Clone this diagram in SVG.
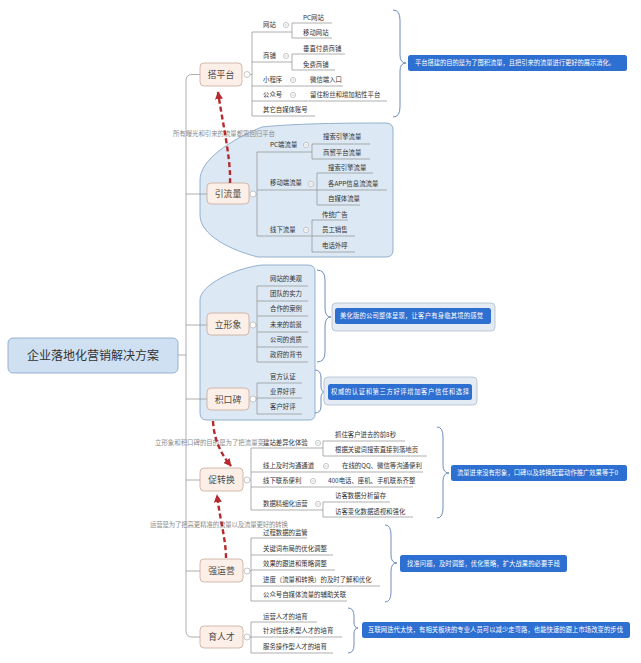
<svg xmlns="http://www.w3.org/2000/svg" width="641" height="663" viewBox="0 0 641 663">
<style>
text{font-family:"Noto Sans CJK SC","Noto Sans",sans-serif}
.nr{fill:#fcefe7;stroke:#c9a999;stroke-width:0.8}
.nt{font-size:8.8px;fill:#4d4a48;text-anchor:middle}
.rt{font-size:12px;fill:#333;text-anchor:middle}
.st{font-size:6.4px;fill:#333}
.ln{stroke:#9b9b9b;stroke-width:0.8;fill:none}
.ul{stroke:#8e8e8e;stroke-width:0.7;fill:none}
.tg{fill:#fff;stroke:#b0b0b0;stroke-width:0.7}
.tm{stroke:#b0b0b0;stroke-width:0.6}
.br{stroke:#5d80b3;stroke-width:0.9;fill:none}
.sb{fill:#2e6fd2}
.so{fill:#e4ebf3;stroke:#aebdcf;stroke-width:0.8}
.sm{font-size:6.3px;fill:#fff}
.rel{stroke:#b52a2e;stroke-width:2.4;stroke-dasharray:5 3;fill:none}
.lb{font-size:6.4px;fill:#8a8a8a}
.bd{fill:#dce8f4;stroke:#8aa8c8;stroke-width:0.9}
</style>
<defs>
<marker id="ah" viewBox="0 0 10 10" refX="9" refY="5" markerWidth="8" markerHeight="8" markerUnits="userSpaceOnUse" orient="auto">
<path d="M0,0 L10,5 L0,10 Z" fill="#b52a2e"/>
</marker>
</defs>
<rect width="641" height="663" fill="#fff"/>

<g id="boundaries">
<path class="bd" d="M262,127 C300,123 360,123 386,123 Q393,123 393,130 L393,250 Q393,257 386,257 L258,257 C230,250 200,235 200,215 L200,180 C200,160 230,140 262,127 Z"/>
<path class="bd" d="M262,265 L308,265 Q315,265 315,272 L315,414 Q315,420 309,420 L207,420 Q200,420 200,413 L200,300 C200,285 235,268 262,265 Z"/>
</g>

<g id="connectors">
<path class="ln" d="M200,74.5 H192 Q186,74.5 186,80.5 V631 Q186,637 192,637 H200"/>
<path class="ln" d="M178,355 H186 M186,194 H207 M186,325 H207 M186,399 H207 M186,480 H200 M186,571 H200"/>
<path class="ln" d="M250,74.5 H252 M252,32 V116"/>
<path class="ln" d="M256,194 H257 M257,152 V236"/>
<path class="ln" d="M256,325 H257 M257,286 V362"/>
<path class="ln" d="M256,399 H257 M257,383 V414"/>
<path class="ln" d="M250,480 H251 M251,448 V510"/>
<path class="ln" d="M250,571 H251 M251,538 V601"/>
<path class="ln" d="M250,637 H251 M251,622 V653"/>
</g>

<g id="root">
<rect x="8" y="338" width="170" height="35" rx="5" fill="#cfe0f3" stroke="#8fa9c9" stroke-width="0.9"/>
<text class="rt" x="93" y="360">企业落地化营销解决方案</text>
</g>

<g id="n-dapingtai">
<rect class="nr" x="200" y="63" width="42" height="23" rx="4"/>
<text class="nt" x="221" y="78">搭平台</text>
<circle class="tg" cx="247" cy="74.5" r="3"/>
<path class="ul" d="M252,32 H292 M292,23 V38 M292,23 H332 M292,38 H332 M252,62 H292 M292,54 V70 M292,54 H345 M292,70 H335 M252,86 H343 M252,101 H387 M252,116 H315"/>
<circle class="tg" cx="286" cy="25" r="2.6"/><path class="tm" d="M284.6,25 H287.4"/>
<circle class="tg" cx="286" cy="56" r="2.6"/><path class="tm" d="M284.6,56 H287.4"/>
<circle class="tg" cx="293" cy="80" r="2.6"/><path class="tm" d="M291.6,80 H294.4"/>
<circle class="tg" cx="293" cy="95" r="2.6"/><path class="tm" d="M291.6,95 H294.4"/>
<text class="st" x="263" y="27.3">网站</text>
<text class="st" x="303" y="20.3">PC网站</text>
<text class="st" x="303" y="35.3">移动网站</text>
<text class="st" x="263" y="58.3">商铺</text>
<text class="st" x="303" y="51.3">垂直付费商铺</text>
<text class="st" x="303" y="67.3">免费商铺</text>
<text class="st" x="263" y="82.3">小程序</text>
<text class="st" x="310" y="82.3">微信端入口</text>
<text class="st" x="263" y="97.3">公众号</text>
<text class="st" x="310" y="97.3">留住粉丝和增加粘性平台</text>
<text class="st" x="263" y="112.3">其它自媒体账号</text>
</g>

<g id="n-yinliuliang">
<rect class="nr" x="207" y="183" width="42" height="21" rx="4"/>
<text class="nt" x="228" y="197">引流量</text>
<circle class="tg" cx="253" cy="194" r="3"/>
<path class="ul" d="M257,152 H312 M312,144 V159 M312,144 H370 M312,159 H370 M257,190 H317 M317,173 V205 M317,173 H373 M317,190 H387 M317,205 H360 M257,236 H312 M312,220 V252 M312,220 H348 M312,236 H355 M312,252 H355"/>
<circle class="tg" cx="306" cy="145" r="2.6"/><path class="tm" d="M304.6,145 H307.4"/>
<circle class="tg" cx="311" cy="184" r="2.6"/><path class="tm" d="M309.6,184 H312.4"/>
<circle class="tg" cx="306" cy="230" r="2.6"/><path class="tm" d="M304.6,230 H307.4"/>
<text class="st" x="270" y="147.3">PC端流量</text>
<text class="st" x="323" y="139.3">搜索引擎流量</text>
<text class="st" x="323" y="155.3">商贸平台流量</text>
<text class="st" x="270" y="185.3">移动端流量</text>
<text class="st" x="328" y="170.3">搜索引擎流量</text>
<text class="st" x="328" y="186.3">各APP信息流流量</text>
<text class="st" x="328" y="201.3">自媒体流量</text>
<text class="st" x="270" y="232.3">线下流量</text>
<text class="st" x="322" y="217.3">传统广告</text>
<text class="st" x="322" y="232.3">员工销售</text>
<text class="st" x="322" y="248.3">电话外呼</text>
</g>

<g id="n-lixingxiang">
<rect class="nr" x="207" y="313" width="42" height="22" rx="4"/>
<text class="nt" x="228" y="327.5">立形象</text>
<circle class="tg" cx="253" cy="325" r="3"/>
<path class="ul" d="M257,286 H308 M257,301 H308 M257,316 H308 M257,332 H308 M257,347 H308 M257,362 H308"/>
<text class="st" x="270" y="281.3">网站的美观</text>
<text class="st" x="270" y="296.3">团队的实力</text>
<text class="st" x="270" y="311.3">合作的案例</text>
<text class="st" x="270" y="327.3">未来的前景</text>
<text class="st" x="270" y="342.3">公司的资质</text>
<text class="st" x="270" y="357.3">政府的背书</text>
</g>

<g id="n-jikoubei">
<rect class="nr" x="207" y="388" width="42" height="22" rx="4"/>
<text class="nt" x="228" y="402.5">积口碑</text>
<circle class="tg" cx="253" cy="399" r="3"/>
<path class="ul" d="M257,383 H302 M257,398 H302 M257,414 H302"/>
<text class="st" x="270" y="379.3">官方认证</text>
<text class="st" x="270" y="394.3">业界好评</text>
<text class="st" x="270" y="409.3">客户好评</text>
</g>

<g id="labels-back">
<text class="lb" x="155" y="444.5" textLength="109" lengthAdjust="spacing">立形象和积口碑的目的是为了把流量变</text>
</g>

<g id="n-cuzhuanhuan">
<rect class="nr" x="200" y="468" width="43" height="23" rx="4"/>
<text class="nt" x="221.5" y="483">促转换</text>
<circle class="tg" cx="247" cy="480" r="3"/>
<path class="ul" d="M251,448 H323 M323,441 V456 M323,441 H405 M323,456 H427 M251,472 H423 M251,487 H413 M251,510 H323 M323,502 V517 M323,502 H390 M323,517 H413"/>
<circle class="tg" cx="318" cy="443" r="2.6"/><path class="tm" d="M316.6,443 H319.4"/>
<circle class="tg" cx="326" cy="466" r="2.6"/><path class="tm" d="M324.6,466 H327.4"/>
<circle class="tg" cx="313" cy="481" r="2.6"/><path class="tm" d="M311.6,481 H314.4"/>
<circle class="tg" cx="318" cy="504" r="2.6"/><path class="tm" d="M316.6,504 H319.4"/>
<text class="st" x="263" y="445.3">建站差异化体验</text>
<text class="st" x="335" y="437.3">抓住客户进去的前8秒</text>
<text class="st" x="335" y="452.3">根据关键词搜索直接到落地页</text>
<text class="st" x="263" y="468.3">线上及时沟通通道</text>
<text class="st" x="342" y="468.3">在线的QQ、微信等沟通便利</text>
<text class="st" x="263" y="483.3">线下联系便利</text>
<text class="st" x="328" y="483.3">400电话、座机、手机联系齐整</text>
<text class="st" x="263" y="506.3">数据精细化运营</text>
<text class="st" x="335" y="498.3">访客数据分析留存</text>
<text class="st" x="335" y="513.8">访客变化数据透视和强化</text>
</g>

<g id="n-qiangyunying">
<rect class="nr" x="200" y="559" width="43" height="23" rx="4"/>
<text class="nt" x="221.5" y="574">强运营</text>
<circle class="tg" cx="247" cy="571" r="3"/>
<path class="ul" d="M251,538 H307 M251,555 H333 M251,570 H335 M251,586 H380 M251,601 H347"/>
<text class="st" x="263" y="535.3">过程数据的监管</text>
<text class="st" x="263" y="551.3">关键词布局的优化调整</text>
<text class="st" x="263" y="566.3">效果的跟进和策略调整</text>
<text class="st" x="263" y="582.3">进度（流量和转换）的及时了解和优化</text>
<text class="st" x="263" y="596.8">公众号自媒体流量的辅助关联</text>
</g>

<g id="n-yurencai">
<rect class="nr" x="200" y="626" width="43" height="22" rx="4"/>
<text class="nt" x="221.5" y="640">育人才</text>
<circle class="tg" cx="247" cy="637" r="3"/>
<path class="ul" d="M251,622 H317 M251,637 H342 M251,653 H333"/>
<text class="st" x="263" y="619.3">运营人才的培育</text>
<text class="st" x="263" y="633.3">针对性技术型人才的培育</text>
<text class="st" x="263" y="649.3">服务操作型人才的培育</text>
</g>

<g id="summaries">
<path class="br" d="M393,10 Q400,10 400,20 L400,55 Q400,63 406,63 Q400,63 400,71 L400,107 Q400,117 393,117"/>
<rect class="sb" x="408" y="55" width="219" height="16" rx="2.5"/>
<text class="sm" x="415" y="65.3" textLength="200" lengthAdjust="spacing">平台搭建的目的是为了囤积流量，且把引来的流量进行更好的展示消化。</text>

<path class="br" d="M317,270 Q325,270 325,280 L325,308 Q325,317 331,317 Q325,317 325,326 L325,352 Q325,362 317,362"/>
<rect class="so" x="332" y="303" width="163" height="28" rx="4"/>
<rect class="sb" x="335" y="308" width="156" height="16" rx="2.5"/>
<text class="sm" x="340" y="318.3" textLength="143" lengthAdjust="spacing">美化版的公司整体呈现，让客户有身临其境的感觉</text>

<path class="br" d="M315,370 Q321,370 321,378 L321,386 Q321,392 325,392 Q321,392 321,398 L321,406 Q321,413 315,413"/>
<rect class="so" x="324" y="377" width="153" height="28" rx="4"/>
<rect class="sb" x="328" y="384" width="144" height="16" rx="2.5"/>
<text class="sm" x="331" y="394.3" textLength="138" lengthAdjust="spacing">权威的认证和第三方好评增加客户信任和选择</text>

<path class="br" d="M437,427 Q443,427 443,437 L443,465 Q443,473 449,473 Q443,473 443,481 L443,508 Q443,518 437,518"/>
<rect class="sb" x="451" y="465" width="176" height="16" rx="2.5"/>
<text class="sm" x="457" y="475.3" textLength="161" lengthAdjust="spacing">流量进来没有形象，口碑以及转换配套动作推广效果等于0</text>

<path class="br" d="M385,525 Q391,525 391,535 L391,555 Q391,563 397,563 Q391,563 391,571 L391,592 Q391,602 385,602"/>
<rect class="sb" x="400" y="555" width="167" height="17" rx="2.5"/>
<text class="sm" x="407" y="565.8" textLength="153" lengthAdjust="spacing">找准问题，及时调整，优化策略，扩大战果的必要手段</text>

<path class="br" d="M348,608 Q354,608 354,616 L354,622 Q354,628 358,628 Q354,628 354,634 L354,645 Q354,653 348,653"/>
<rect class="sb" x="362" y="622" width="268" height="16" rx="2.5"/>
<text class="sm" x="368" y="632.3" textLength="255" lengthAdjust="spacing">互联网迭代太快，有相关板块的专业人员可以减少走弯路，也能快速的跟上市场改变的步伐</text>
</g>

<g id="relationships">
<text class="lb" x="173" y="135.5" textLength="102" lengthAdjust="spacing">所有曝光和引来的流量都需回归平台</text>
<text class="lb" x="150" y="526.5" textLength="138" lengthAdjust="spacing">运营是为了把高更精准的流量以及流量更好的转换</text>
<path class="rel" d="M230,183 C231,158 222,120 218,92" marker-end="url(#ah)"/>
<path class="rel" d="M213,421 C214,440 221,454 231,466" marker-end="url(#ah)"/>
<path class="rel" d="M226,558 C226,540 220,520 217,495" marker-end="url(#ah)"/>
</g>
</svg>
